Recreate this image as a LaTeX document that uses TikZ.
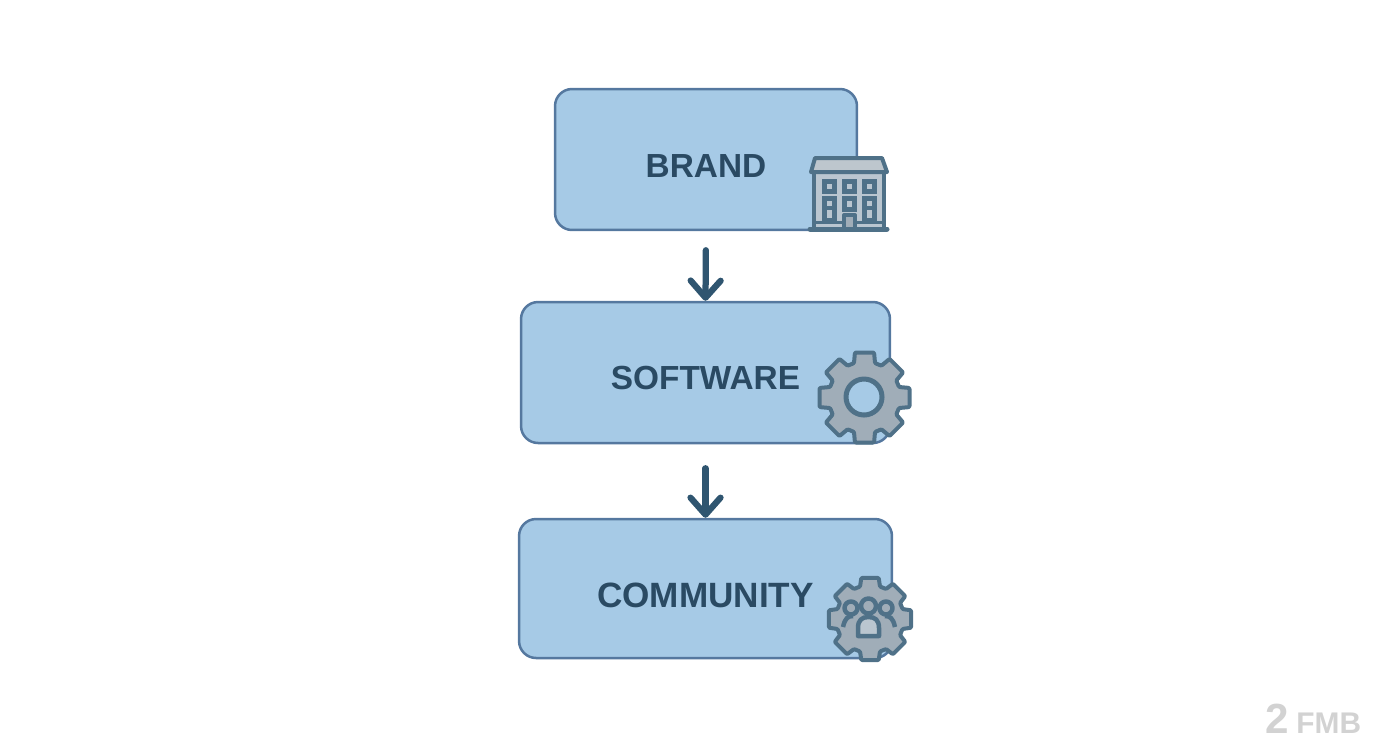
\documentclass[tikz,border=0pt]{standalone}
\usepackage{fontspec}
\setmainfont{Liberation Sans}
\usepackage{xcolor}
\usepackage{tikz}
\usetikzlibrary{calc,arrows.meta}

\definecolor{boxfill}{HTML}{A6CAE6}
\definecolor{boxline}{HTML}{55789F}
\definecolor{inkdark}{HTML}{2A4A63}
\definecolor{arrowink}{HTML}{2F5570}
\definecolor{icongray}{HTML}{A0ADB8}
\definecolor{iconlight}{HTML}{BAC6D0}
\definecolor{iconline}{HTML}{4F7188}
\definecolor{markgray}{HTML}{D2D2D2}

\tikzset{
    blockbox/.style={draw=boxline, fill=boxfill, line width=0.05cm, rounded corners=0.34cm,
        font=\fontsize{19}{19}\selectfont\bfseries, text=inkdark, text depth=0pt},
    flow/.style={draw=arrowink, line width=0.125cm, line cap=round,
        -{Straight Barb[length=0.34cm, width=0.6cm, line cap=round, round]}},
    iconpart/.style={draw=iconline, line width=0.08cm, line join=round},
    windowpane/.style={draw=iconline, fill=iconlight, line width=0.1cm},
}

% cx, cy, outer radius, root radius
\newcommand{\gearoutline}[4]{
    \draw[iconpart, fill=icongray, rounded corners=0.02cm]
        ({#1+#4*cos(-20)}, {#2+#4*sin(-20)})
        \foreach \a in {0, 45, ..., 315} {
            -- ({#1+#4*cos(\a-17)}, {#2+#4*sin(\a-17)})
            -- ({#1+#3*cos(\a-12)}, {#2+#3*sin(\a-12)})
            -- ({#1+#3*cos(\a+12)}, {#2+#3*sin(\a+12)})
            -- ({#1+#4*cos(\a+17)}, {#2+#4*sin(\a+17)})
        } -- cycle;
}

\begin{document}
\begin{tikzpicture}[x=0.02cm, y=-0.02cm]
    \useasboundingbox (0, 0) rectangle (1392, 752);

    \node[blockbox, minimum width=6.04cm, minimum height=2.82cm, text height=0.72cm] (brand) at (706, 159.5) {BRAND};
    \node[blockbox, minimum width=7.38cm, minimum height=2.82cm, text height=0.68cm] (software) at (705.5, 372.5) {SOFTWARE};
    \node[blockbox, minimum width=7.46cm, minimum height=2.78cm, text height=0.74cm,
        font=\fontsize{20}{20}\selectfont\bfseries] (community) at (705.5, 588.5) {COMMUNITY};

    \draw[flow, shorten <=0.38cm] (brand.south) -- (software.north);
    \draw[flow, shorten <=0.48cm] (software.south) -- (community.north);

    % building
    \draw[iconpart, fill=iconlight] (814, 172) rectangle (884, 229);
    \draw[iconpart, fill=icongray!70!white] (815, 158) -- (882, 158) -- (887, 172) -- (811, 172) -- cycle;
    \foreach \x in {824, 844, 864} {
        \draw[windowpane] (\x, 181) rectangle ++(10, 10);
    }
    \foreach \x in {824, 864} {
        \draw[windowpane] (\x, 198) rectangle ++(10, 22);
        \draw[iconline, line width=0.08cm] (\x, 208) -- ++(10, 0);
    }
    \draw[windowpane] (844, 198) rectangle ++(10, 11);
    \draw[iconline, line width=0.06cm] (815, 222) -- (883, 222);
    \draw[iconpart, fill=icongray] (844, 215) rectangle (855, 229);
    \draw[iconline, line width=0.1cm, line cap=round] (810, 229) -- (887, 229);

    % software gear
    \gearoutline{864.5}{397.5}{46}{36}
    \draw[iconpart, fill=boxfill, line width=0.1cm] (864, 397) circle (18);

    % community gear
    \gearoutline{870}{619}{42}{34}
    \draw[iconpart, fill=icongray, line width=0.09cm] (851, 608) circle (6.5);
    \draw[iconpart, fill=icongray, line width=0.09cm] (886, 608) circle (6.5);
    \draw[iconpart, line width=0.09cm] (843, 627) .. controls (845, 618) and (848, 616) .. (853, 616);
    \draw[iconpart, line width=0.09cm] (895, 627) .. controls (893, 618) and (890, 616) .. (885, 616);
    \draw[iconpart, fill=icongray, line width=0.09cm] (868.5, 606) circle (7.5);
    \draw[iconpart, fill=iconlight, line width=0.09cm] (858, 636) -- (858, 628) .. controls (858, 620) and (862, 617) .. (868.5, 617)
        .. controls (875, 617) and (879, 620) .. (879, 628) -- (879, 636) -- cycle;

    \node[font=\fontsize{24}{24}\selectfont\bfseries, text=markgray, inner sep=0pt, anchor=base west] (marktwo) at (1265, 733) {2};
    \node[font=\fontsize{17}{17}\selectfont\bfseries, text=markgray, inner sep=0pt, anchor=base west] (markfmb) at (1296, 733) {FMB};
\end{tikzpicture}
\end{document}
